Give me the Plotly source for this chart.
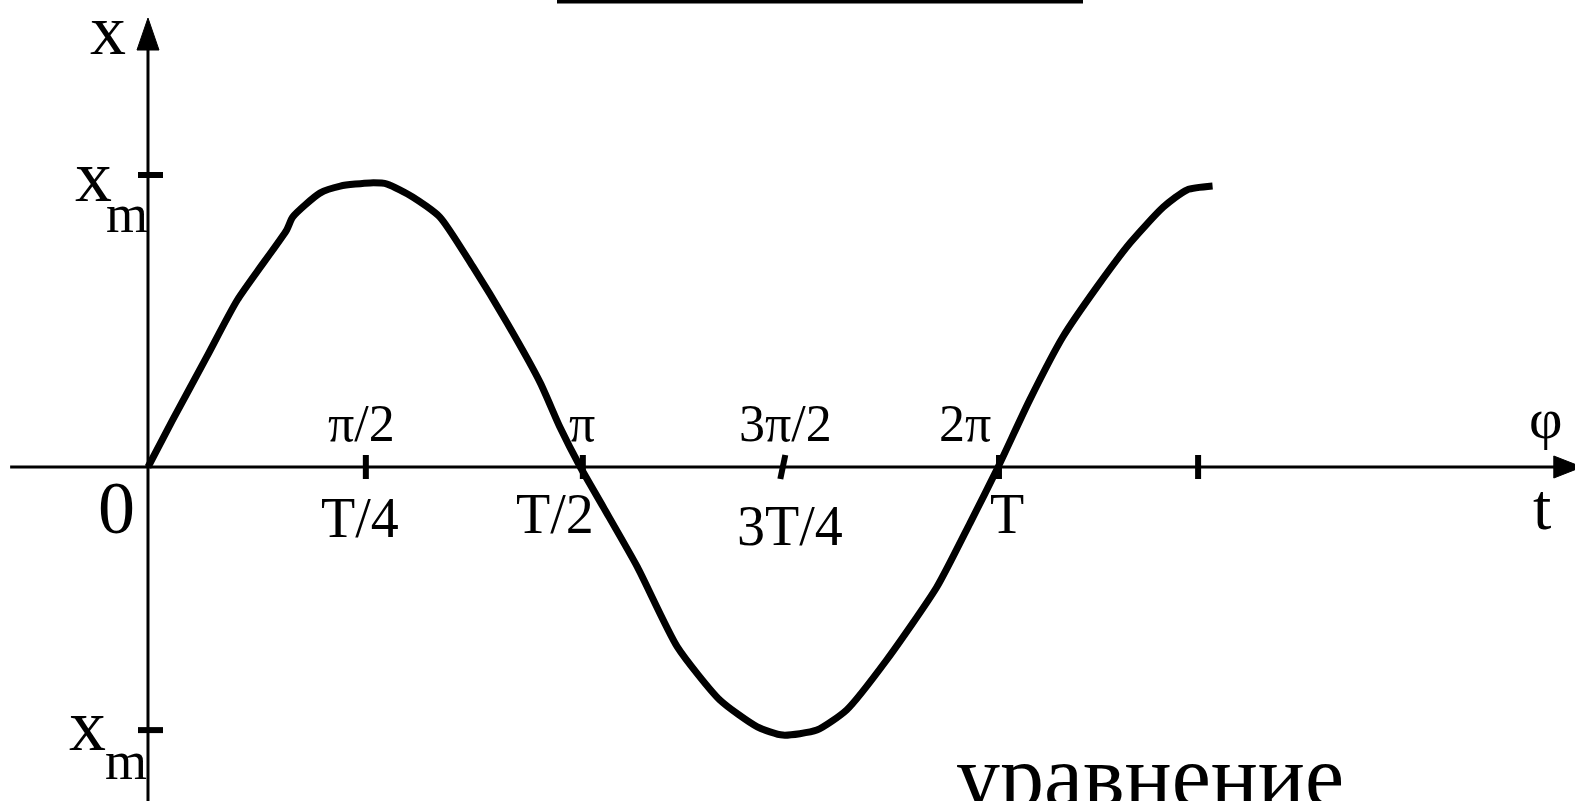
import plotly.graph_objects as go

# curve: t in units of T, x in units of x_m
t_curve = [0.0, 0.029, 0.069, 0.105, 0.163, 0.170, 0.202, 0.226, 0.261,
           0.281, 0.311, 0.343, 0.382, 0.422, 0.461, 0.484, 0.508, 0.535, 0.575,
           0.622, 0.672, 0.716, 0.746, 0.786, 0.821, 0.868, 0.927, 0.966, 0.999,
           1.036, 1.075, 1.115, 1.154, 1.193, 1.221, 1.251]
x_curve = [0.0, 0.161, 0.377, 0.572, 0.812, 0.856, 0.938, 0.962, 0.973,
           0.969, 0.925, 0.856, 0.685, 0.493, 0.288, 0.137, 0.0, -0.137, -0.342,
           -0.616, -0.798, -0.890, -0.918, -0.901, -0.832, -0.661, -0.411, -0.192, 0.0,
           0.229, 0.445, 0.616, 0.767, 0.890, 0.949, 0.962]

# tick marks on the t axis and their labels
t_ticks = [0.256, 0.511, 0.746, 1.0, 1.234]
phase_labels = ["π/2", "π", "3π/2", "2π", ""]
time_labels = ["T/4", "T/2", "3T/4", "T", ""]

# tick marks on the x axis (hand drawn, so the lower one is a bit closer)
x_ticks = [1.0, -0.901]

FONT = "Liberation Serif"
W, H = 1575, 801

fig = go.Figure()
fig.add_trace(go.Scatter(x=t_curve, y=x_curve, mode="lines",
                         line=dict(color="black", width=7, shape="spline", smoothing=0.6),
                         hoverinfo="skip", showlegend=False))

shapes = []
# axes
shapes.append(dict(type="line", xref="x", yref="y", x0=-0.162, x1=1.66, y0=0, y1=0,
                   line=dict(color="black", width=3)))
shapes.append(dict(type="line", xref="x", yref="y", x0=0, x1=0, y0=-1.2, y1=1.44,
                   line=dict(color="black", width=3)))
# arrow heads
shapes.append(dict(type="path", xref="x", yref="y", xsizemode="pixel", ysizemode="pixel",
                   xanchor=1.652, yanchor=0, path="M0,-11 L28,0 L0,11 Z",
                   fillcolor="black", line=dict(color="black", width=1)))
shapes.append(dict(type="path", xref="x", yref="y", xsizemode="pixel", ysizemode="pixel",
                   xanchor=0, yanchor=1.428, path="M-11,0 L0,32 L11,0 Z",
                   fillcolor="black", line=dict(color="black", width=1)))
# tick marks on t axis (the 3T/4 one leans a little)
for i, tv in enumerate(t_ticks):
    lean = 2.5 if i == 2 else 0
    shapes.append(dict(type="line", xref="x", yref="y", xsizemode="pixel", ysizemode="pixel",
                       xanchor=tv, yanchor=0, x0=-lean, x1=lean, y0=-12, y1=12,
                       line=dict(color="black", width=6)))
# tick marks on x axis
for xv in x_ticks:
    shapes.append(dict(type="line", xref="x", yref="y", xsizemode="pixel", ysizemode="pixel",
                       xanchor=0, yanchor=xv, x0=-10, x1=15, y0=0, y1=0,
                       line=dict(color="black", width=6)))
# cut-off rule at the top of the page
shapes.append(dict(type="line", xref="paper", yref="paper", x0=557 / W, x1=1083 / W,
                   y0=1, y1=1, line=dict(color="black", width=7)))

annotations = []
phase_shift = [-4, -1, 3, -34, 0]
time_shift = [(-6, -51), (-28, -47), (7, -59), (8, -47), (0, 0)]
for i, tv in enumerate(t_ticks):
    if phase_labels[i]:
        annotations.append(dict(x=tv, y=0, xref="x", yref="y", text=phase_labels[i],
                                showarrow=False, xshift=phase_shift[i], yshift=44,
                                font=dict(family=FONT, size=52, color="black")))
    if time_labels[i]:
        annotations.append(dict(x=tv, y=0, xref="x", yref="y", text=time_labels[i],
                                showarrow=False, xshift=time_shift[i][0], yshift=time_shift[i][1],
                                font=dict(family=FONT, size=56, color="black")))

# free-standing labels, placed by page position
labels = [
    ("x", 108, 30, 72),
    ("x", 93, 176, 74),
    ("m", 127, 214, 54),
    ("x", 87, 725, 74),
    ("m", 126, 761, 54),
    ("0", 116, 508, 74),
    ("φ", 1545, 418, 58),
    ("t", 1542, 506, 66),
    ("уравнение", 1150, 776, 88),
]
for text, px, py, size in labels:
    annotations.append(dict(x=px / W, y=1 - py / H, xref="paper", yref="paper", text=text,
                            showarrow=False, xanchor="center", yanchor="middle",
                            font=dict(family=FONT, size=size, color="black")))

fig.update_layout(
    width=W, height=H,
    margin=dict(l=0, r=0, t=0, b=0),
    paper_bgcolor="white", plot_bgcolor="white",
    xaxis=dict(range=[-0.1739, 1.6769], visible=False, fixedrange=True),
    yaxis=dict(range=[-1.1438, 1.5993], visible=False, fixedrange=True),
    shapes=shapes, annotations=annotations,
    showlegend=False,
)

# drop the browser's default page margin so the figure sits at the window corner
fig.write_html("out.html", config={"displayModeBar": False},
               post_script="document.body.style.margin='0';document.body.style.overflow='hidden';")
